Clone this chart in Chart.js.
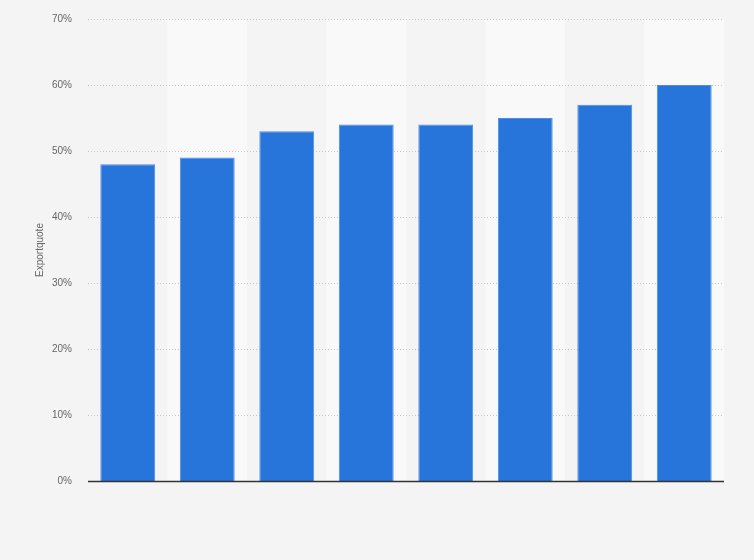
<!DOCTYPE html>
<html>
<head>
<meta charset="utf-8">
<script src="https://cdn.jsdelivr.net/npm/chart.js@4/dist/chart.umd.min.js"></script>
<style>
  html, body { margin: 0; padding: 0; background: #f4f4f4; }
  #wrap { position: relative; width: 754px; height: 560px; }
</style>
</head>
<body>
<div id="wrap"><canvas id="exportChart" width="754" height="560"></canvas></div>
<script>
// categories are not labelled in the original picture
const categories = ["1", "2", "3", "4", "5", "6", "7", "8"];
const exportShare = [48, 49, 53, 54, 54, 55, 57, 60];
const yTicks = [0, 10, 20, 30, 40, 50, 60, 70];

// alternating column bands behind the bars
const bandPlugin = {
  id: "bands",
  beforeDraw(chart) {
    const { ctx, chartArea, scales } = chart;
    ctx.save();
    ctx.fillStyle = "#f4f4f4";
    ctx.fillRect(0, 0, chart.width, chart.height);
    const x = scales.x;
    const step = x.width / categories.length;
    categories.forEach((c, i) => {
      if (i % 2 === 1) {
        ctx.fillStyle = "#f9f9f9";
        ctx.fillRect(x.left + i * step, chartArea.top, step, chartArea.bottom - chartArea.top);
      }
    });
    ctx.restore();
  }
};

// dotted gridlines under the bars, solid base line on top
const gridPlugin = {
  id: "grid",
  beforeDatasetsDraw(chart) {
    const { ctx, chartArea, scales } = chart;
    const y = scales.y;
    ctx.save();
    ctx.strokeStyle = "#c8c8c8";
    ctx.lineWidth = 1;
    ctx.setLineDash([1, 2]);
    yTicks.forEach((v) => {
      if (v === 0) return;
      const py = Math.round(y.getPixelForValue(v)) + 0.5;
      ctx.beginPath();
      ctx.moveTo(chartArea.left, py);
      ctx.lineTo(chartArea.right, py);
      ctx.stroke();
    });
    ctx.restore();
  },
  afterDatasetsDraw(chart) {
    const { ctx, chartArea, scales } = chart;
    const py = Math.round(scales.y.getPixelForValue(0)) + 0.5;
    ctx.save();
    ctx.strokeStyle = "#333";
    ctx.lineWidth = 1.5;
    ctx.beginPath();
    ctx.moveTo(chartArea.left, py);
    ctx.lineTo(chartArea.right, py);
    ctx.stroke();
    ctx.restore();
  }
};

new Chart(document.getElementById("exportChart").getContext("2d"), {
  type: "bar",
  data: {
    labels: categories,
    datasets: [
      {
        label: "Exportquote",
        data: exportShare,
        backgroundColor: "#2775db",
        borderColor: "#4a8de6",
        borderWidth: 1,
        barPercentage: 0.69,
        categoryPercentage: 1,
      },
    ],
  },
  options: {
    responsive: false,
    animation: false,
    devicePixelRatio: 1,
    layout: { padding: { top: 19, right: 30, bottom: 71, left: 34 } },
    plugins: { legend: { display: false }, tooltip: { enabled: false } },
    scales: {
      x: {
        grid: { display: false },
        border: { display: false },
        ticks: { display: false },
      },
      y: {
        min: 0,
        max: 70,
        afterBuildTicks: (axis) => { axis.ticks = yTicks.map((v) => ({ value: v })); },
        afterFit: (axis) => { axis.width = 54; axis.paddingTop = 0; axis.paddingBottom = 0; },
        grid: { display: false, drawTicks: false },
        border: { display: false },
        ticks: {
          autoSkip: false,
          color: "#666",
          font: { family: "Arial, 'Liberation Sans'", size: 10 },
          padding: 16,
          callback: (v) => v + "%",
        },
        title: {
          display: true,
          text: "Exportquote",
          color: "#666",
          font: { family: "Arial, 'Liberation Sans'", size: 10 },
          padding: { top: 0, bottom: 5 },
        },
      },
    },
  },
  plugins: [bandPlugin, gridPlugin],
});
</script>
</body>
</html>
